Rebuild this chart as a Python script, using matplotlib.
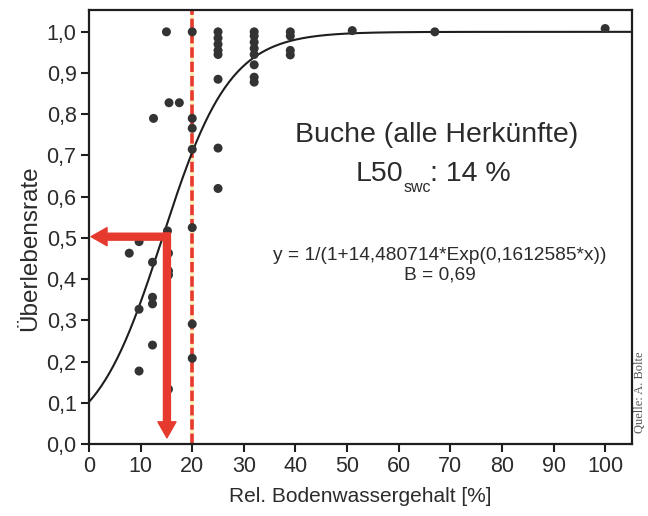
import matplotlib
matplotlib.use("Agg")
import matplotlib.pyplot as plt
import numpy as np
from matplotlib.patches import FancyArrowPatch

# ---------------- data ----------------
swc = [15, 20,
       25, 25, 25, 25, 25, 25, 25, 25,
       32, 32, 32, 32, 32, 32, 32, 32,
       39, 39, 39, 39,
       51, 67, 100,
       15.5, 17.5, 12.5, 20, 20, 20,
       15.2, 20, 9.7, 7.8, 12.3, 15.4, 15.4, 15.4,
       12.3, 12.3, 9.7, 12.3, 9.7, 20, 20, 15.4]
survival = [1.0, 1.0,
            1.0, 0.985, 0.97, 0.955, 0.945, 0.885, 0.718, 0.62,
            1.0, 0.99, 0.975, 0.96, 0.945, 0.92, 0.89, 0.878,
            1.0, 0.99, 0.955, 0.944,
            1.003, 1.0, 1.008,
            0.828, 0.828, 0.79, 0.79, 0.766, 0.715,
            0.517, 0.525, 0.491, 0.463, 0.441, 0.463, 0.42, 0.41,
            0.356, 0.34, 0.327, 0.24, 0.177, 0.291, 0.208, 0.133]

# logistic curve as drawn in the chart
fit_a = 8.8
fit_b = 0.153
l50 = 15.1
threshold = 20

xticks = [0, 10, 20, 30, 40, 50, 60, 70, 80, 90, 100]
yticks = [0.0, 0.1, 0.2, 0.3, 0.4, 0.5, 0.6, 0.7, 0.8, 0.9, 1.0]
ytick_labels = ["0,0", "0,1", "0,2", "0,3", "0,4", "0,5", "0,6", "0,7", "0,8", "0,9", "1,0"]

title_text = "Buche (alle Herkünfte)"
l50_main = "L50"
l50_sub = "swc"
l50_rest = ": 14 %"
eq_text = "y = 1/(1+14,480714*Exp(0,1612585*x))"
b_text = "B = 0,69"
xlabel = "Rel. Bodenwassergehalt [%]"
ylabel = "Überlebensrate"
source = "Quelle: A. Bolte"

# ---------------- style ----------------
plt.rcParams['font.family'] = ['Liberation Sans', 'DejaVu Sans']
plt.rcParams['lines.scale_dashes'] = False

txt = '#2b2b2b'
red = '#e63a2e'

fig = plt.figure(figsize=(6.48, 5.16), dpi=100)
ax = fig.add_axes([89/648, 1-444/516, (632-89)/648, (444-10)/516])
ax.set_xlim(0, 105.2)
ax.set_ylim(0, 1.053)

# threshold dashed line
ax.plot([threshold, threshold], [0, 1.053], color='#fbf1b8', lw=2.6, zorder=2, solid_capstyle='butt')
ax.plot([threshold, threshold], [0, 1.053], color=red, lw=2.6, linestyle=(0, (7.5, 2.8)), zorder=2.1)

# fitted curve
xs = np.linspace(0, 105.2, 400)
ys = 1 / (1 + fit_a * np.exp(-fit_b * xs))
ax.plot(xs, ys, color='#1e1e1e', lw=1.5, zorder=3)

# points
ax.scatter(swc, survival, s=42, color='#333333', edgecolors='none', zorder=4)

# arrows
kw = dict(arrowstyle='simple,tail_width=0.5,head_width=1.3,head_length=1.15',
          mutation_scale=10, color=red, shrinkA=0, shrinkB=0, zorder=5)
ax.add_patch(FancyArrowPatch((l50 + 0.45, 0.503), (0.4, 0.503), **kw))
ax.add_patch(FancyArrowPatch((l50, 0.503 + 0.009), (l50, 0.015), **kw))

# texts
ax.text(67.3, 0.749, title_text, ha='center', va='center', fontsize=20.5, color=txt)
t1 = ax.text(51.6, 0.637, l50_main, ha='left', va='baseline', fontsize=20.5, color=txt)
t2 = ax.annotate(l50_sub, xy=(1, 0), xycoords=t1, xytext=(0.3, -3.0),
                 textcoords='offset points', ha='left', va='baseline', fontsize=11.5, color=txt)
t3 = ax.annotate(l50_rest, xy=(1, 0), xycoords=(t2, t1), xytext=(-0.5, 0),
                 textcoords='offset points', ha='left', va='bottom', fontsize=20.5, color=txt)
ax.text(68.0, 0.457, eq_text, ha='center', va='center', fontsize=13.8, color=txt)
ax.text(68.0, 0.41, b_text, ha='center', va='center', fontsize=13.8, color=txt)

# axes styling
for s in ax.spines.values():
    s.set_linewidth(1.6)
    s.set_color('#1e1e1e')
ax.set_xticks(xticks)
ax.set_yticks(yticks)
ax.set_yticklabels(ytick_labels)
ax.tick_params(direction='out', length=6, width=1.5, labelsize=15.5, colors='#1e1e1e',
               labelcolor=txt, pad=3)
ax.set_xlabel(xlabel, fontsize=15, color=txt, labelpad=7)
ax.set_ylabel(ylabel, fontsize=17.5, color=txt)
ax.yaxis.set_label_coords(-0.088, 0.452)

fig.text(0.988, 0.24, source, rotation=90, ha='center', va='center', fontsize=9,
         family='Liberation Serif', color='#555555')

fig.savefig('out.png', dpi=100)
